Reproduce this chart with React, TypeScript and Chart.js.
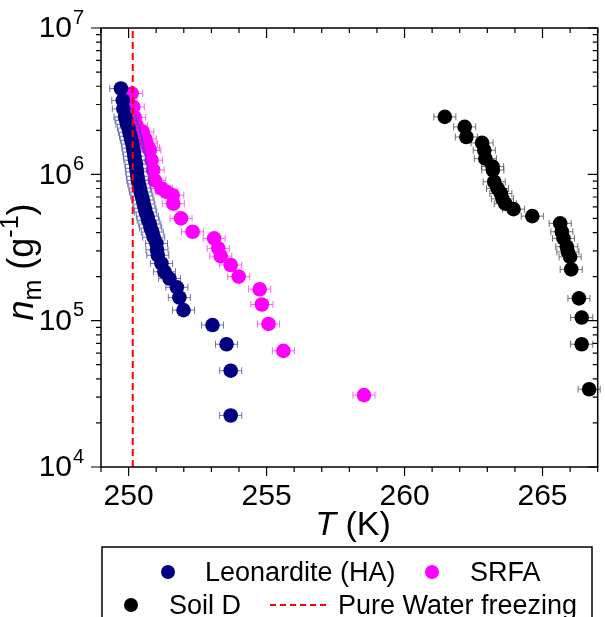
import React, { useEffect, useRef } from "react";
import { Chart, registerables } from "chart.js";
Chart.register(...registerables);

// ---- data ----
const leonarditeT = [249.72, 249.79, 249.81, 249.87, 249.91, 249.94, 250.0, 250.03, 250.07, 250.1, 250.14, 250.16, 250.19, 250.21, 250.23, 250.27, 250.28, 250.3, 250.32, 250.34, 250.37, 250.41, 250.44, 250.48, 250.52, 250.55, 250.59, 250.62, 250.68, 250.71, 250.77, 250.8, 250.86, 250.91, 251.01, 251.03, 251.06, 251.19, 251.3, 251.48, 251.75, 251.84, 251.99, 253.04, 253.55, 253.7, 253.7];
const leonarditeN = [3.86e6, 3.2e6, 2.8e6, 2.47e6, 2.34e6, 2.2e6, 2.07e6, 1.94e6, 1.82e6, 1.71e6, 1.61e6, 1.51e6, 1.42e6, 1.33e6, 1.25e6, 1.17e6, 1.1e6, 1.04e6, 9.7e5, 9.1e5, 8.6e5, 8.05e5, 7.56e5, 7.1e5, 6.67e5, 6.26e5, 5.87e5, 5.52e5, 5.18e5, 4.86e5, 4.57e5, 4.29e5, 4.03e5, 3.72e5, 3.37e5, 3.05e5, 2.8e5, 2.46e5, 2.16e5, 1.94e5, 1.69e5, 1.44e5, 1.18e5, 9.33e4, 6.9e4, 4.55e4, 2.25e4];

const srfaT = [250.11, 250.17, 250.22, 250.29, 250.51, 250.6, 250.65, 250.72, 250.77, 250.83, 250.89, 250.95, 251.19, 251.37, 251.6, 251.62, 251.9, 252.32, 253.1, 253.25, 253.34, 253.7, 253.99, 254.75, 254.83, 255.07, 255.61, 258.53];
const srfaN = [3.57e6, 2.89e6, 2.45e6, 2.17e6, 1.95e6, 1.75e6, 1.63e6, 1.52e6, 1.46e6, 1.25e6, 1.07e6, 9.1e5, 8.0e5, 7.6e5, 7.2e5, 6.3e5, 5.0e5, 4.05e5, 3.65e5, 3.12e5, 2.76e5, 2.4e5, 2.0e5, 1.64e5, 1.29e5, 9.5e4, 6.22e4, 3.1e4];

const soilT = [261.46, 262.18, 262.24, 262.81, 262.89, 262.93, 263.19, 263.2, 263.25, 263.37, 263.49, 263.55, 263.65, 263.95, 264.63, 265.64, 265.7, 265.76, 265.88, 265.92, 266.0, 266.04, 266.32, 266.42, 266.42, 266.69];
const soilN = [2.47e6, 2.11e6, 1.8e6, 1.64e6, 1.46e6, 1.28e6, 1.13e6, 1.07e6, 8.9e5, 8.0e5, 7.4e5, 6.8e5, 6.3e5, 5.78e5, 5.18e5, 4.62e5, 4.05e5, 3.65e5, 3.2e5, 2.95e5, 2.73e5, 2.24e5, 1.42e5, 1.05e5, 6.9e4, 3.4e4];

const tError = 0.4;
const freezingT = 250.15;
const xTickValues = [250, 255, 260, 265];
const xTickLabels = ["250", "255", "260", "265"];
const yTickExponents = [4, 5, 6, 7];
const seriesNames = ["Leonardite (HA)", "SRFA", "Soil D", "Pure Water freezing"];

const FONT = '"Liberation Sans", Arial, sans-serif';

const errorBarPlugin = {
  id: "errbars",
  beforeDatasetDraw(chart: any, args: any) {
    const ds = chart.data.datasets[args.index];
    if (!ds.errX) return;
    const xs = chart.scales.x;
    const ys = chart.scales.y;
    const ctx = chart.ctx;
    ctx.save();
    ctx.strokeStyle = ds.errColor;
    ctx.lineWidth = 1;
    ds.data.forEach((p: any, i: number) => {
      const e = ds.errX[i];
      const x1 = xs.getPixelForValue(p.x - e);
      const x2 = xs.getPixelForValue(p.x + e);
      const y = ys.getPixelForValue(p.y);
      ctx.beginPath();
      ctx.moveTo(x1, y);
      ctx.lineTo(x2, y);
      ctx.moveTo(x1, y - 3.5);
      ctx.lineTo(x1, y + 3.5);
      ctx.moveTo(x2, y - 3.5);
      ctx.lineTo(x2, y + 3.5);
      ctx.stroke();
    });
    ctx.restore();
  },
};

const framePlugin = {
  id: "frame",
  afterDraw(chart: any) {
    const ctx = chart.ctx;
    const { left, right, top, bottom } = chart.chartArea;
    const xs = chart.scales.x;
    const ys = chart.scales.y;
    ctx.save();
    ctx.strokeStyle = "#000";
    ctx.lineWidth = 1.5;
    ctx.strokeRect(left, top, right - left, bottom - top);
    ctx.lineWidth = 1.2;
    // x ticks
    for (let v = 249; v <= 267; v++) {
      const x = xs.getPixelForValue(v);
      const major = v % 5 === 0;
      ctx.beginPath();
      ctx.moveTo(x, bottom);
      ctx.lineTo(x, bottom + (major ? 9 : 5));
      ctx.moveTo(x, top);
      ctx.lineTo(x, top + (major ? 10 : 5));
      ctx.stroke();
    }
    // y ticks
    for (let e = 4; e <= 7; e++) {
      for (let m = 1; m <= 9; m++) {
        const v = m * Math.pow(10, e);
        if (v > 1e7) break;
        const y = ys.getPixelForValue(v);
        const major = m === 1;
        ctx.beginPath();
        ctx.moveTo(left, y);
        ctx.lineTo(left - (major ? 10 : 5), y);
        ctx.moveTo(right, y);
        ctx.lineTo(right - (major ? 10 : 5), y);
        ctx.stroke();
      }
    }
    // x labels
    ctx.fillStyle = "#000";
    ctx.font = `30px ${FONT}`;
    ctx.textAlign = "center";
    ctx.textBaseline = "middle";
    xTickValues.forEach((v, i) => {
      ctx.fillText(xTickLabels[i], xs.getPixelForValue(v), 497);
    });
    // y labels
    yTickExponents.forEach((e) => {
      const y = ys.getPixelForValue(Math.pow(10, e));
      ctx.font = `30px ${FONT}`;
      ctx.textAlign = "right";
      ctx.textBaseline = "middle";
      ctx.fillText("10", 72, y + 1);
      ctx.font = `20px ${FONT}`;
      ctx.textAlign = "left";
      ctx.fillText(String(e), 73, y - 10);
    });
    // x title
    ctx.textBaseline = "alphabetic";
    ctx.font = `italic 34px ${FONT}`;
    const tW = ctx.measureText("T").width;
    ctx.font = `34px ${FONT}`;
    const restW = ctx.measureText(" (K)").width;
    const startX = 353 - (tW + restW) / 2;
    ctx.font = `italic 34px ${FONT}`;
    ctx.textAlign = "left";
    ctx.fillText("T", startX, 535);
    ctx.font = `34px ${FONT}`;
    ctx.fillText(" (K)", startX + tW, 535);
    // y title (rotated)
    ctx.save();
    ctx.translate(33, 262);
    ctx.rotate(-Math.PI / 2);
    const parts = [
      { t: "n", f: `italic 36px ${FONT}`, dy: 0 },
      { t: "m", f: `25px ${FONT}`, dy: 8 },
      { t: " (g", f: `36px ${FONT}`, dy: 0 },
      { t: "-1", f: `25px ${FONT}`, dy: -15 },
      { t: ")", f: `36px ${FONT}`, dy: 0 },
    ];
    let total = 0;
    parts.forEach((p) => {
      ctx.font = p.f;
      total += ctx.measureText(p.t).width;
    });
    let cx = -total / 2;
    parts.forEach((p) => {
      ctx.font = p.f;
      ctx.fillText(p.t, cx, p.dy);
      cx += ctx.measureText(p.t).width;
    });
    ctx.restore();
    // legend
    ctx.lineWidth = 1.5;
    ctx.strokeStyle = "#000";
    ctx.strokeRect(102, 547, 490, 80);
    ctx.font = `27px ${FONT}`;
    ctx.textAlign = "left";
    ctx.textBaseline = "alphabetic";
    const dot = (x: number, y: number, c: string) => {
      ctx.beginPath();
      ctx.fillStyle = c;
      ctx.arc(x, y, 7, 0, Math.PI * 2);
      ctx.fill();
    };
    dot(168, 572, "#000080");
    dot(432, 572, "#ff00ff");
    dot(131, 605, "#000000");
    ctx.fillStyle = "#000";
    ctx.fillText(seriesNames[0], 205, 581);
    ctx.fillText(seriesNames[1], 470, 581);
    ctx.fillText(seriesNames[2], 169, 614);
    ctx.fillText(seriesNames[3], 338, 614);
    ctx.strokeStyle = "#ff0000";
    ctx.lineWidth = 2;
    ctx.setLineDash([6, 4]);
    ctx.beginPath();
    ctx.moveTo(270, 605);
    ctx.lineTo(330, 605);
    ctx.stroke();
    ctx.setLineDash([]);
    ctx.restore();
  },
};

const toPoints = (xs: number[], ys: number[]) => xs.map((x, i) => ({ x, y: ys[i] }));

export default function App() {
  const ref = useRef<HTMLCanvasElement | null>(null);
  useEffect(() => {
    if (!ref.current) return;
    const chart = new Chart(ref.current, {
      type: "scatter",
      data: {
        datasets: [
          {
            type: "line",
            label: seriesNames[3],
            data: [
              { x: freezingT, y: 1e4 },
              { x: freezingT, y: 1e7 },
            ],
            borderColor: "#ff0000",
            borderWidth: 2,
            borderDash: [7, 4],
            pointRadius: 0,
            showLine: true,
          } as any,
          {
            label: seriesNames[0],
            data: toPoints(leonarditeT, leonarditeN),
            backgroundColor: "#000080",
            borderColor: "#000080",
            borderWidth: 0,
            pointRadius: 7.3,
            errX: leonarditeT.map(() => tError),
            errColor: "rgba(70,70,160,0.75)",
          } as any,
          {
            label: seriesNames[1],
            data: toPoints(srfaT, srfaN),
            backgroundColor: "#ff00ff",
            borderColor: "#ff00ff",
            borderWidth: 0,
            pointRadius: 7.3,
            errX: srfaT.map(() => tError),
            errColor: "rgba(255,60,255,0.8)",
          } as any,
          {
            label: seriesNames[2],
            data: toPoints(soilT, soilN),
            backgroundColor: "#000000",
            borderColor: "#000000",
            borderWidth: 0,
            pointRadius: 7.3,
            errX: soilT.map(() => tError),
            errColor: "rgba(80,80,80,0.8)",
          } as any,
        ],
      },
      options: {
        animation: false,
        responsive: false,
        events: [],
        clip: false as any,
        layout: { padding: { left: 101, right: 2, top: 28, bottom: 150 } },
        plugins: { legend: { display: false }, tooltip: { enabled: false } },
        scales: {
          x: { type: "linear", min: 249, max: 267, display: false },
          y: { type: "logarithmic", min: 1e4, max: 1e7, display: false },
        },
      },
      plugins: [errorBarPlugin, framePlugin],
    });
    return () => chart.destroy();
  }, []);
  return (
    <div style={{ position: "absolute", left: 0, top: 0, width: 605, height: 617, background: "#fff" }}>
      <canvas ref={ref} width={605} height={617} />
    </div>
  );
}
